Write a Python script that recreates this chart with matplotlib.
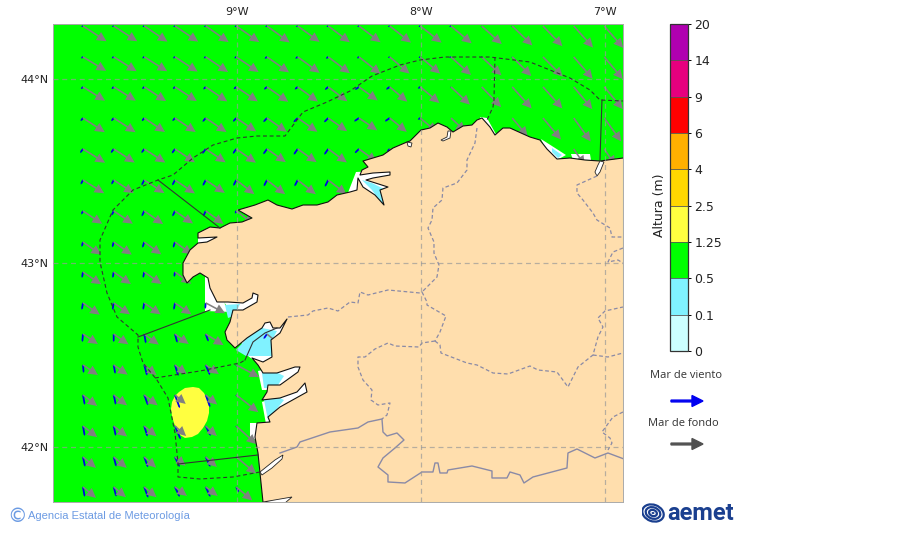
import numpy as np
import matplotlib
matplotlib.use('Agg')
import matplotlib.pyplot as plt
from matplotlib.cm import ScalarMappable
from matplotlib.colors import BoundaryNorm, ListedColormap
from matplotlib.patches import Ellipse, Polygon, FancyArrow

_ = np.nan

# colour scale
LEVELS = [0, 0.1, 0.5, 1.25, 2.5, 4, 6, 9, 14, 20]
LEVEL_LABELS = ['0', '0.1', '0.5', '1.25', '2.5', '4', '6', '9', '14', '20']
LEVEL_COLORS = ['#CCFFFF', '#80F2FF', '#00FF00', '#FFFF40', '#FFD700',
                '#FFB000', '#FF0000', '#E6007E', '#B000B0']

LON_TICKS = [-9, -8, -7]
LAT_TICKS = [44, 43, 42]

# arrow grid, every 1/6 of a degree
GRID_LON = [-9.837, -9.67, -9.504, -9.337, -9.17, -9.004, -8.837, -8.67, -8.504,
            -8.337, -8.17, -8.004, -7.837, -7.67, -7.504, -7.337, -7.17, -7.004]
GRID_LAT = [44.288, 44.12, 43.957, 43.788, 43.62, 43.451, 43.283, 43.114,
            42.951, 42.783, 42.614, 42.446, 42.283, 42.114, 41.946, 41.783]

# swell (mar de fondo) arrow length and bearing, per row of the grid
SWELL_LEN = [
    [28, 28, 28, 28, 28, 28, 28, 27, 27, 27, 27, 27, 27, 27, 28, 28, 29, 29],
    [27, 27, 27, 27, 27, 27, 27, 27, 27, 27.5, 26, 26, 27, 27, 27, 28, 29, 29],
    [26, 26, 26, 26, 26, 26, 26, 25, 24, 23, 23, 25, 26, 28, 29, 29, 29, 29],
    [26, 26, 25, 25, 25, 24, 24, 24, 23, 22, 22, 22, 20, _, 24, 28, 29, 29],
    [26, 25, 25, 24, 24, 24, 23, 23, 23, 22, 20, _, _, _, _, _, 20, 20],
    [25, 24, 24, 24, 23, 23, 23, 23, 23],
    [23, 23, 23, 22, 22, 22],
    [22, 22, 21, 21],
    [22, 21, 21, 20],
    [20.5, 20, 20, 20, 22],
    [18, 18, 18, 17, 21, _, 20],
    [18, 17, 16, 15, 16, 26],
    [18, 17, 17, 14, 15, 28],
    [18, 17, 16, 15, 15, 27],
    [17, 17, 16, 14, 15, 26],
    [17, 16, 16, 15, 15, 21],
]
SWELL_DIR = [
    [123, 123, 124, 124, 125, 125, 126, 126, 127, 127, 128, 128, 130, 132, 134, 136, 138, 139],
    [121, 122, 122, 123, 124, 124, 125, 126, 127, 128, 130, 130, 132, 133, 135, 135, 139, 140],
    [122, 122, 123, 123, 124, 124, 125, 126, 127, 126, 130, 130, 133, 136, 138, 138, 140, 140],
    [123, 123, 124, 124, 124, 124, 125, 125, 125, 124, 129, 130, 133, _, 140, 140, 144, 144],
    [122, 123, 123, 124, 124, 125, 125, 125, 126, 126, 128, _, _, _, _, _, 146, 146],
    [122, 123, 123, 124, 124, 128, 128, 128, 128],
    [124, 124, 125, 125, 126, 128],
    [125, 125, 126, 126],
    [124, 125, 125, 126],
    [125, 125, 125, 125, 118],
    [124, 125, 126, 126, 122, _, 130],
    [124, 125, 130, 128, 125, 118],
    [128, 128, 128, 130, 130, 128],
    [128, 128, 130, 132, 132, 132],
    [130, 130, 132, 130, 132, 130],
    [130, 130, 130, 127, 127, 130],
]

# wind sea (mar de viento) arrow length and bearing, per row of the grid
WIND_LEN = [
    [2, 2, 2, 2, 2, 2, 2, 2, 2, 2, 2, 2, 2, 1, 1, 0, 0, 0],
    [2.5, 2.5, 2.5, 2.5, 2.5, 2.5, 3, 3, 3, 2.5, 2, 2, 2, 1.5, 1, 0, 0, 0],
    [3, 3, 3, 3, 3.5, 3.5, 4, 4, 4.5, 5, 4.5, 3, 1, 0, 0, 0, 0, 0],
    [4, 4, 4, 4, 5, 5, 5.5, 6, 6, 6, 6, 3, 0, _, 0, 0, 0, 0],
    [5, 5, 5, 5.5, 6, 6, 6.5, 7, 7, 6, 4, _, _, _, _, _, 0, 0],
    [5, 5, 6, 6, 6.5, 6.5, 7, 7, 7.5],
    [4, 5, 6, 6, 6, 3],
    [5, 5.5, 6, 6],
    [6, 6, 6, 5],
    [7, 7, 7, 7, 6],
    [8, 8, 9.5, 9, 8, _, 6],
    [8, 9, 11, 11.5, 11, 2],
    [10, 10, 11, 14, 13, 2],
    [10, 10, 11, 14.5, 11, 2],
    [10, 10, 11, 11, 11, 2],
    [10, 10, 11.5, 11, 11, 6],
]
WIND_DIR = [
    [240, 240, 240, 240, 240, 240, 240, 240, 240, 240, 240, 240, 240, 240, 240, 240, 240, 240],
    [235, 235, 235, 235, 235, 235, 235, 235, 235, 235, 235, 235, 235, 235, 235, 235, 235, 235],
    [225, 225, 225, 225, 225, 230, 230, 230, 230, 235, 235, 235, 235, 235, 235, 235, 235, 235],
    [218, 218, 218, 220, 220, 222, 222, 225, 225, 235, 235, 235, 235, _, 235, 235, 235, 235],
    [215, 215, 215, 215, 215, 215, 215, 215, 215, 225, 225, _, _, _, _, _, 225, 225],
    [207, 207, 207, 207, 207, 207, 207, 207, 207],
    [205, 205, 205, 205, 205, 205],
    [195, 195, 198, 198],
    [190, 190, 192, 190],
    [190, 190, 190, 190, 185],
    [185, 180, 170, 165, 160, _, 215],
    [175, 170, 165, 163, 157, 150],
    [170, 168, 160, 160, 160, 150],
    [170, 168, 163, 157, 153, 150],
    [168, 165, 160, 155, 155, 150],
    [170, 165, 160, 155, 155, 155],
]

COAST = [(623, 158), (600, 161), (585, 160), (570, 158), (557, 159), (547, 149), (540, 140),
         (530, 137), (510, 128), (503, 128), (495, 135), (490, 127), (482, 118), (477, 120),
         (472, 125), (463, 126), (453, 132), (447, 127), (438, 123), (430, 128), (421, 130),
         (410, 141), (407, 142), (393, 148), (383, 155), (373, 158), (363, 161), (368, 167),
         (362, 170), (360, 175), (373, 173), (390, 172), (390, 175), (373, 178), (366, 180),
         (388, 187), (380, 190), (384, 205), (375, 195), (363, 187), (358, 178), (357, 190),
         (350, 192), (337, 195), (328, 202), (317, 205), (303, 205), (292, 209), (277, 205),
         (268, 200), (255, 205), (238, 210), (252, 218), (242, 222), (230, 223),
         (220, 228), (210, 227), (198, 233), (198, 238), (217, 237), (207, 242), (198, 243),
         (190, 250), (183, 263), (183, 275), (187, 283), (193, 277), (200, 273), (208, 278),
         (210, 288), (215, 298), (217, 302), (228, 302), (243, 303), (252, 298), (253, 293),
         (258, 295), (257, 302), (243, 310), (233, 310), (230, 322), (225, 332), (227, 340),
         (235, 348), (247, 338), (262, 328), (265, 323), (270, 322), (273, 328), (280, 328),
         (287, 319), (280, 333), (271, 340), (272, 357), (263, 362), (252, 358), (258, 365),
         (263, 373), (277, 373), (295, 367), (300, 367), (298, 372), (280, 385), (268, 385),
         (267, 392), (262, 400), (280, 398), (297, 392), (305, 383), (307, 392), (280, 407),
         (268, 417), (270, 422), (257, 423), (255, 437), (258, 453), (260, 473), (263, 502)]

WHITE_PATCHES = [
    [(205, 272), (222, 280), (225, 305), (232, 312), (205, 311)],
    [(222, 298), (258, 290), (262, 304), (232, 316)],
    [(248, 356), (262, 366), (278, 360), (290, 318), (258, 318), (240, 340)],
    [(258, 371), (300, 362), (303, 372), (282, 390), (262, 390)],
    [(262, 402), (285, 394), (308, 380), (310, 394), (280, 412), (266, 424)],
    [(250, 423), (260, 423), (260, 442), (250, 437)],
    [(198, 234), (218, 234), (218, 240), (198, 244)],
    [(356, 172), (394, 170), (392, 208), (346, 198)],
    [(541, 139), (552, 146), (566, 155), (557, 160), (547, 152)],
    [(571, 154), (590, 154), (591, 160), (573, 160)],
    [(480, 117), (487, 118), (497, 136), (490, 134)],
]
CYAN_PATCHES = [
    [(225, 305), (240, 304), (234, 316), (228, 318)],
    [(236, 350), (250, 335), (262, 328), (277, 331), (271, 342), (274, 356), (256, 356), (246, 356)],
    [(262, 373), (276, 372), (284, 376), (276, 388), (264, 388)],
    [(264, 400), (278, 397), (284, 400), (268, 420)],
    [(362, 180), (372, 190), (385, 208), (386, 190), (372, 183)],
    [(552, 148), (562, 155), (558, 158), (552, 152)],
]
# small inlets that cut into the land fill
INLETS = [
    [(600, 161), (604, 162), (600, 172), (597, 176), (595, 172), (598, 165)],
    [(260, 472), (275, 460), (283, 455), (282, 459), (272, 468), (262, 475)],
    [(441, 140), (447, 137), (448, 131), (451, 131), (450, 138), (443, 141)],
    [(263, 502), (292, 497), (285, 503)],
    [(407, 142), (412, 143), (411, 147), (408, 146)],
]

YELLOW_AREA = [(193, 387), (199, 388), (204, 393), (207, 399), (209, 406), (209, 413), (207, 421),
               (203, 428), (198, 434), (192, 437), (185, 438), (180, 435), (177, 430), (174, 423),
               (172, 416), (171, 409), (172, 402), (175, 396), (179, 392), (185, 388)]

ZONE_DASHED = [
    [(260, 472), (233, 477), (200, 479), (178, 477), (178, 463), (175, 433), (168, 398), (157, 380),
     (143, 363), (138, 347), (138, 335), (117, 317), (107, 293), (100, 262), (100, 240), (113, 210),
     (133, 190), (158, 180), (173, 175), (193, 158), (213, 145), (237, 138), (257, 136), (285, 136),
     (303, 112), (327, 102), (350, 91), (372, 76), (400, 65), (420, 60), (445, 57), (490, 57),
     (530, 62), (570, 78), (590, 90), (600, 100), (623, 101)],
    [(155, 378), (200, 371), (240, 363), (245, 360)],
    [(495, 57), (494, 100), (493, 107), (487, 120)],
]
ZONE_SOLID = [
    [(158, 180), (220, 228)],
    [(138, 337), (210, 310)],
    [(245, 360), (253, 342), (265, 333), (277, 328)],
    [(178, 464), (258, 455)],
    [(602, 100), (600, 160)],
]
BORDER_DASHED = [
    [(477, 128), (475, 143), (467, 160), (467, 170), (457, 183), (443, 188), (442, 200), (433, 208),
     (432, 220), (428, 228), (434, 242), (434, 253), (439, 265), (437, 277), (427, 287), (422, 292)],
    [(288, 317), (308, 315), (313, 311), (328, 308), (338, 311), (350, 302), (358, 303), (360, 292),
     (368, 295), (388, 290), (420, 293), (422, 292), (427, 302), (427, 305), (446, 316), (440, 332),
     (435, 341)],
    [(435, 341), (422, 343), (419, 347), (395, 346), (388, 343), (375, 349), (365, 357), (358, 357),
     (358, 367), (363, 380), (372, 390), (371, 400), (378, 405), (390, 403), (387, 415), (382, 419)],
    [(435, 341), (440, 345), (441, 353), (467, 363), (477, 365), (493, 373), (508, 374), (530, 366),
     (538, 370), (557, 372), (568, 387), (578, 367), (593, 355), (598, 337), (603, 327), (598, 318),
     (605, 311), (623, 307)],
    [(593, 355), (608, 357), (623, 353)],
    [(597, 176), (577, 185), (577, 193), (583, 200), (593, 213), (597, 220), (610, 228), (612, 237), (623, 237)],
    [(623, 248), (613, 252), (608, 262), (618, 260), (623, 263)],
    [(623, 412), (613, 417), (602, 432), (610, 438), (612, 443), (608, 450)],
]
BORDER_SOLID = [(280, 453), (297, 447), (300, 442), (315, 437), (330, 432), (358, 428), (368, 422),
                (382, 419), (383, 432), (387, 436), (397, 433), (404, 440), (395, 448), (383, 458),
                (378, 467), (388, 475), (388, 482), (405, 483), (422, 472), (433, 472), (435, 463),
                (438, 463), (440, 473), (447, 473), (448, 470), (472, 466), (492, 471), (492, 478),
                (507, 478), (510, 472), (520, 475), (524, 483), (533, 477), (567, 468), (568, 453),
                (577, 449), (595, 458), (608, 453), (624, 459)]


def to_lonlat(points):
    pts = np.array(points, dtype=float)
    return np.column_stack([-10 + (pts[:, 0] - 53) / 184, 44 - (pts[:, 1] - 79) / 184])


def fill_rows(rows):
    out = np.full((len(GRID_LAT), len(GRID_LON)), np.nan)
    for i, row in enumerate(rows):
        out[i, :len(row)] = row
    return out


W, H = 900, 533
fig = plt.figure(figsize=(W / 100, H / 100), dpi=100)
ax = fig.add_axes([53 / W, 1 - 502 / H, 570 / W, 478 / H])
ax.set_facecolor(LEVEL_COLORS[2])
ax.set_xlim(-10, -6.902)
ax.set_ylim(41.701, 44.299)

for p in WHITE_PATCHES:
    ax.add_patch(Polygon(to_lonlat(p), fc='white', ec='none', zorder=1))
for p in CYAN_PATCHES:
    ax.add_patch(Polygon(to_lonlat(p), fc=LEVEL_COLORS[1], ec='none', zorder=1.1))
ax.add_patch(Polygon(to_lonlat(YELLOW_AREA), fc=LEVEL_COLORS[3], ec='none', zorder=1.2))

lon2d, lat2d = np.meshgrid(GRID_LON, GRID_LAT)
wl = np.radians(fill_rows(WIND_DIR))
wlen = fill_rows(WIND_LEN)
ax.quiver(lon2d, lat2d, wlen * np.sin(wl), wlen * np.cos(wl), angles='uv', units='dots',
          scale_units='dots', scale=1, width=1.8, headwidth=1.1, headlength=1, headaxislength=1,
          minlength=0, minshaft=0.1, color='#0000E6', zorder=2)
sl = np.radians(fill_rows(SWELL_DIR))
slen = fill_rows(SWELL_LEN)
ax.quiver(lon2d, lat2d, slen * np.sin(sl), slen * np.cos(sl), angles='uv', units='dots',
          scale_units='dots', scale=1, width=1.6, headwidth=6, headlength=6, headaxislength=6,
          minlength=0, color='#808080', zorder=2.1)

coast = to_lonlat(COAST)
land = np.vstack([coast, [[-6.902, 41.701]]])
ax.add_patch(Polygon(land, fc='#FFDEAD', ec='none', zorder=3))
ax.plot(coast[:, 0], coast[:, 1], color='#111111', lw=0.8, zorder=3.5)
for p in INLETS:
    ax.add_patch(Polygon(to_lonlat(p), fc='white', ec='#222222', lw=0.6, zorder=3.6))

for line in BORDER_DASHED:
    xy = to_lonlat(line)
    ax.plot(xy[:, 0], xy[:, 1], color='#8a8aa6', lw=0.9, dashes=(3, 2), zorder=4)
xy = to_lonlat(BORDER_SOLID)
ax.plot(xy[:, 0], xy[:, 1], color='#8a8aa6', lw=1.0, zorder=4)

for v in LON_TICKS:
    ax.axvline(v, color='#999999', lw=0.9, dashes=(4, 3), alpha=0.7, zorder=4.5)
for v in LAT_TICKS:
    ax.axhline(v, color='#999999', lw=0.9, dashes=(4, 3), alpha=0.7, zorder=4.5)

for line in ZONE_DASHED:
    xy = to_lonlat(line)
    ax.plot(xy[:, 0], xy[:, 1], color='#333333', lw=0.8, dashes=(3.5, 2.5), zorder=5)
for line in ZONE_SOLID:
    xy = to_lonlat(line)
    ax.plot(xy[:, 0], xy[:, 1], color='#333333', lw=0.8, zorder=5)

ax.set_xticks(LON_TICKS)
ax.set_xticklabels(['%d°W' % abs(v) for v in LON_TICKS], fontsize=8, color='#222222')
ax.set_yticks(LAT_TICKS)
ax.set_yticklabels(['%d°N' % v for v in LAT_TICKS], fontsize=8, color='#222222')
ax.tick_params(top=False, labeltop=True, bottom=False, labelbottom=False, left=False, length=0,
               pad=5)
ax.tick_params(axis='y', pad=3)
for s in ax.spines.values():
    s.set_color('#aaaaaa')
    s.set_linewidth(0.7)

# colour bar
cax = fig.add_axes([670 / W, 1 - 351 / H, 18 / W, 327 / H])
cmap = ListedColormap(LEVEL_COLORS)
norm = BoundaryNorm(LEVELS, cmap.N)
cb = fig.colorbar(ScalarMappable(norm=norm, cmap=cmap), cax=cax, spacing='uniform', ticks=LEVELS,
                  drawedges=True)
cb.ax.set_yticklabels(LEVEL_LABELS, fontsize=9, color='#222222')
cb.ax.tick_params(length=2.5, width=0.7, pad=2)
cb.outline.set_linewidth(0.9)
cb.outline.set_edgecolor('#333333')
cb.dividers.set_linewidth(0.6)
cb.dividers.set_color('#555555')
fig.text(659 / W, 1 - 205 / H, 'Altura (m)', rotation=90, fontsize=9, va='center', ha='center',
         color='#222222')

# arrow key
fig.text(686 / W, 1 - 376 / H, 'Mar de viento', fontsize=8, family='Open Sans', ha='center',
         va='center', color='#333333')
fig.text(683 / W, 1 - 423 / H, 'Mar de fondo', fontsize=8, family='Open Sans', ha='center',
         va='center', color='#333333')
fig.add_artist(FancyArrow(671 / W, 1 - 401 / H, 32 / W, 0, width=1.8 / H, head_width=11 / H,
                          head_length=11 / W, length_includes_head=True, color='#0000F0',
                          transform=fig.transFigure))
fig.add_artist(FancyArrow(671 / W, 1 - 444 / H, 32 / W, 0, width=1.8 / H, head_width=11 / H,
                          head_length=11 / W, length_includes_head=True, color='#505050',
                          transform=fig.transFigure))

# footer
blue = '#6C9BE3'
fig.text(17 / W, 1 - 516 / H, '©', fontsize=14, color=blue, ha='center', va='center')
fig.text(28 / W, 1 - 516 / H, 'Agencia Estatal de Meteorología', fontsize=8, color=blue,
         family='Liberation Sans', va='center')

logo = fig.add_axes([642 / W, 1 - 526 / H, 24 / W, 24 / H])
logo.set_xlim(0, 24)
logo.set_ylim(0, 24)
logo.axis('off')
for size, lw in [(22, 1.6), (15, 1.6), (8, 1.6)]:
    e = Ellipse(xy=[11, 13], width=size, height=size * 0.75, angle=-20, fill=False,
                ec='#1A3F8F', lw=lw)
    logo.add_artist(e)
logo.add_artist(Ellipse(xy=[11, 13], width=3, height=2, fc='#1A3F8F', ec='none'))
fig.text(667 / W, 1 - 513 / H, 'aemet', fontsize=17, fontweight='bold', family='Roboto',
         color='#1A3F8F', va='center')

fig.savefig('out.png', dpi=100)
